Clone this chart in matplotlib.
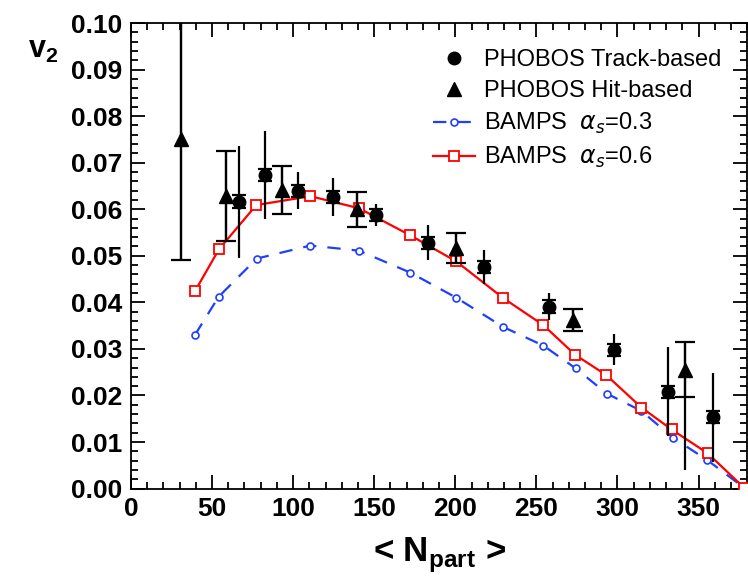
import matplotlib
matplotlib.use("Agg")
import matplotlib.pyplot as plt
import numpy as np
from matplotlib.ticker import MultipleLocator

plt.rcParams['font.family'] = ['Liberation Sans', 'DejaVu Sans']
plt.rcParams['mathtext.fontset'] = 'custom'
plt.rcParams['mathtext.rm'] = 'Liberation Sans'
plt.rcParams['mathtext.bf'] = 'Liberation Sans:bold'

# BAMPS alpha_s = 0.6
npart_06 = [39.5, 54.3, 77.3, 110.7, 140.7, 172.2, 200.6, 229.6, 254.3, 274.0, 293.0, 314.8, 333.3, 355.5, 378.0]
v2_06 = [0.0424, 0.0514, 0.0609, 0.0628, 0.0602, 0.0544, 0.0488, 0.0409, 0.0351, 0.0287, 0.0244, 0.0174, 0.0127, 0.0076, 0.0002]

# BAMPS alpha_s = 0.3
npart_03 = [39.5, 54.1, 77.6, 110.7, 140.6, 172.2, 200.6, 229.6, 254.3, 274.3, 293.4, 314.6, 334.3, 355.4, 378.0]
v2_03 = [0.0330, 0.0412, 0.0494, 0.0522, 0.0511, 0.0464, 0.0410, 0.0347, 0.0307, 0.0258, 0.0204, 0.0167, 0.0109, 0.0061, 0.0002]

# PHOBOS track-based (circles): stat line (no caps) and small capped bars
npart_trk = [66.5, 82.7, 102.9, 124.3, 151.0, 183.1, 217.9, 257.6, 298.1, 331.3, 359.0]
v2_trk = [0.0616, 0.0673, 0.0640, 0.0627, 0.0587, 0.0528, 0.0476, 0.0391, 0.0298, 0.0208, 0.0153]
err_trk = [0.0120, 0.0094, 0.0040, 0.0041, 0.0024, 0.0038, 0.0036, 0.0030, 0.0033, 0.0095, 0.0095]
sys_trk = [0.0014, 0.0013, 0.0013, 0.0013, 0.0013, 0.0013, 0.0013, 0.0013, 0.0013, 0.0013, 0.0013]

# PHOBOS hit-based (triangles)
npart_hit = [30.7, 58.6, 93.2, 139.3, 200.6, 272.4, 341.5]
v2_hit = [0.0750, 0.0628, 0.0641, 0.0600, 0.0517, 0.0362, 0.0255]
err_hit_lo = [0.0258, 0.0097, 0.0052, 0.0038, 0.0032, 0.0024, 0.0215]
err_hit_hi = [0.0300, 0.0097, 0.0052, 0.0038, 0.0032, 0.0024, 0.0059]
cap_hit_lo = [0.0258, 0.0097, 0.0052, 0.0038, 0.0032, 0.0024, 0.0059]
cap_hit_hi = [0.0300, 0.0097, 0.0052, 0.0038, 0.0032, 0.0024, 0.0059]

fig = plt.figure(figsize=(7.48, 5.83), dpi=100)
ax = fig.add_axes([0.175, 0.162, 0.824, 0.7985])

# theory curves
ax.plot(npart_03, v2_03, color='#1f3fff', lw=1.6, dashes=(6, 5), marker='o', ms=5,
        mfc='white', mec='#1f3fff', mew=1.2, label=r'BAMPS  $\alpha_s$=0.3', zorder=2)
ax.plot(npart_06, v2_06, color='#ff0000', lw=1.6, marker='s', ms=6.5,
        mfc='white', mec='#ff0000', mew=1.3, label=r'BAMPS  $\alpha_s$=0.6', zorder=3)

# PHOBOS data
ax.errorbar(npart_trk, v2_trk, yerr=err_trk, fmt='none', ecolor='black', elinewidth=1.6, capsize=0, zorder=4)
ax.errorbar(npart_trk, v2_trk, yerr=sys_trk, fmt='none', ecolor='black', elinewidth=1.6, capsize=5, capthick=1.6, zorder=4)
ax.plot(npart_trk, v2_trk, 'o', color='black', ms=9, label='PHOBOS Track-based', zorder=5)

ax.errorbar(npart_hit, v2_hit, yerr=[err_hit_lo, err_hit_hi], fmt='none', ecolor='black', elinewidth=1.6, capsize=0, zorder=4)
ax.errorbar(npart_hit, v2_hit, yerr=[cap_hit_lo, cap_hit_hi], fmt='none', ecolor='black', elinewidth=1.6, capsize=7, capthick=1.6, zorder=4)
ax.plot(npart_hit, v2_hit, '^', color='black', ms=10, label='PHOBOS Hit-based', zorder=5)

ax.set_xlim(0, 380)
ax.set_ylim(0, 0.10)
ax.xaxis.set_major_locator(MultipleLocator(50))
ax.xaxis.set_minor_locator(MultipleLocator(10))
ax.yaxis.set_major_locator(MultipleLocator(0.01))
ax.yaxis.set_minor_locator(MultipleLocator(0.002))
ax.yaxis.set_major_formatter(matplotlib.ticker.FormatStrFormatter('%.2f'))
ax.tick_params(which='both', direction='in', top=True, right=True, width=1.3)
ax.tick_params(which='major', length=10, labelsize=19, pad=6)
ax.tick_params(which='minor', length=5)
for lab in ax.get_xticklabels() + ax.get_yticklabels():
    lab.set_fontweight('bold')
for s in ax.spines.values():
    s.set_linewidth(1.3)

ax.set_xlabel(r'< N$_{\mathbf{part}}$ >', fontsize=25, fontweight='bold', labelpad=11)
fig.text(0.057, 0.915, r'v$_{\mathbf{2}}$', fontsize=22, fontweight='bold', ha='center', va='center')

handles, labels = ax.get_legend_handles_labels()
order = [2, 3, 0, 1]
ax.legend([handles[i] for i in order], [labels[i] for i in order], loc='upper left',
          bbox_to_anchor=(0.49, 0.944), frameon=False, fontsize=17, handlelength=1.8,
          labelspacing=0.38, handletextpad=0.35, borderpad=0, borderaxespad=0)

fig.savefig('out.png', dpi=100)
